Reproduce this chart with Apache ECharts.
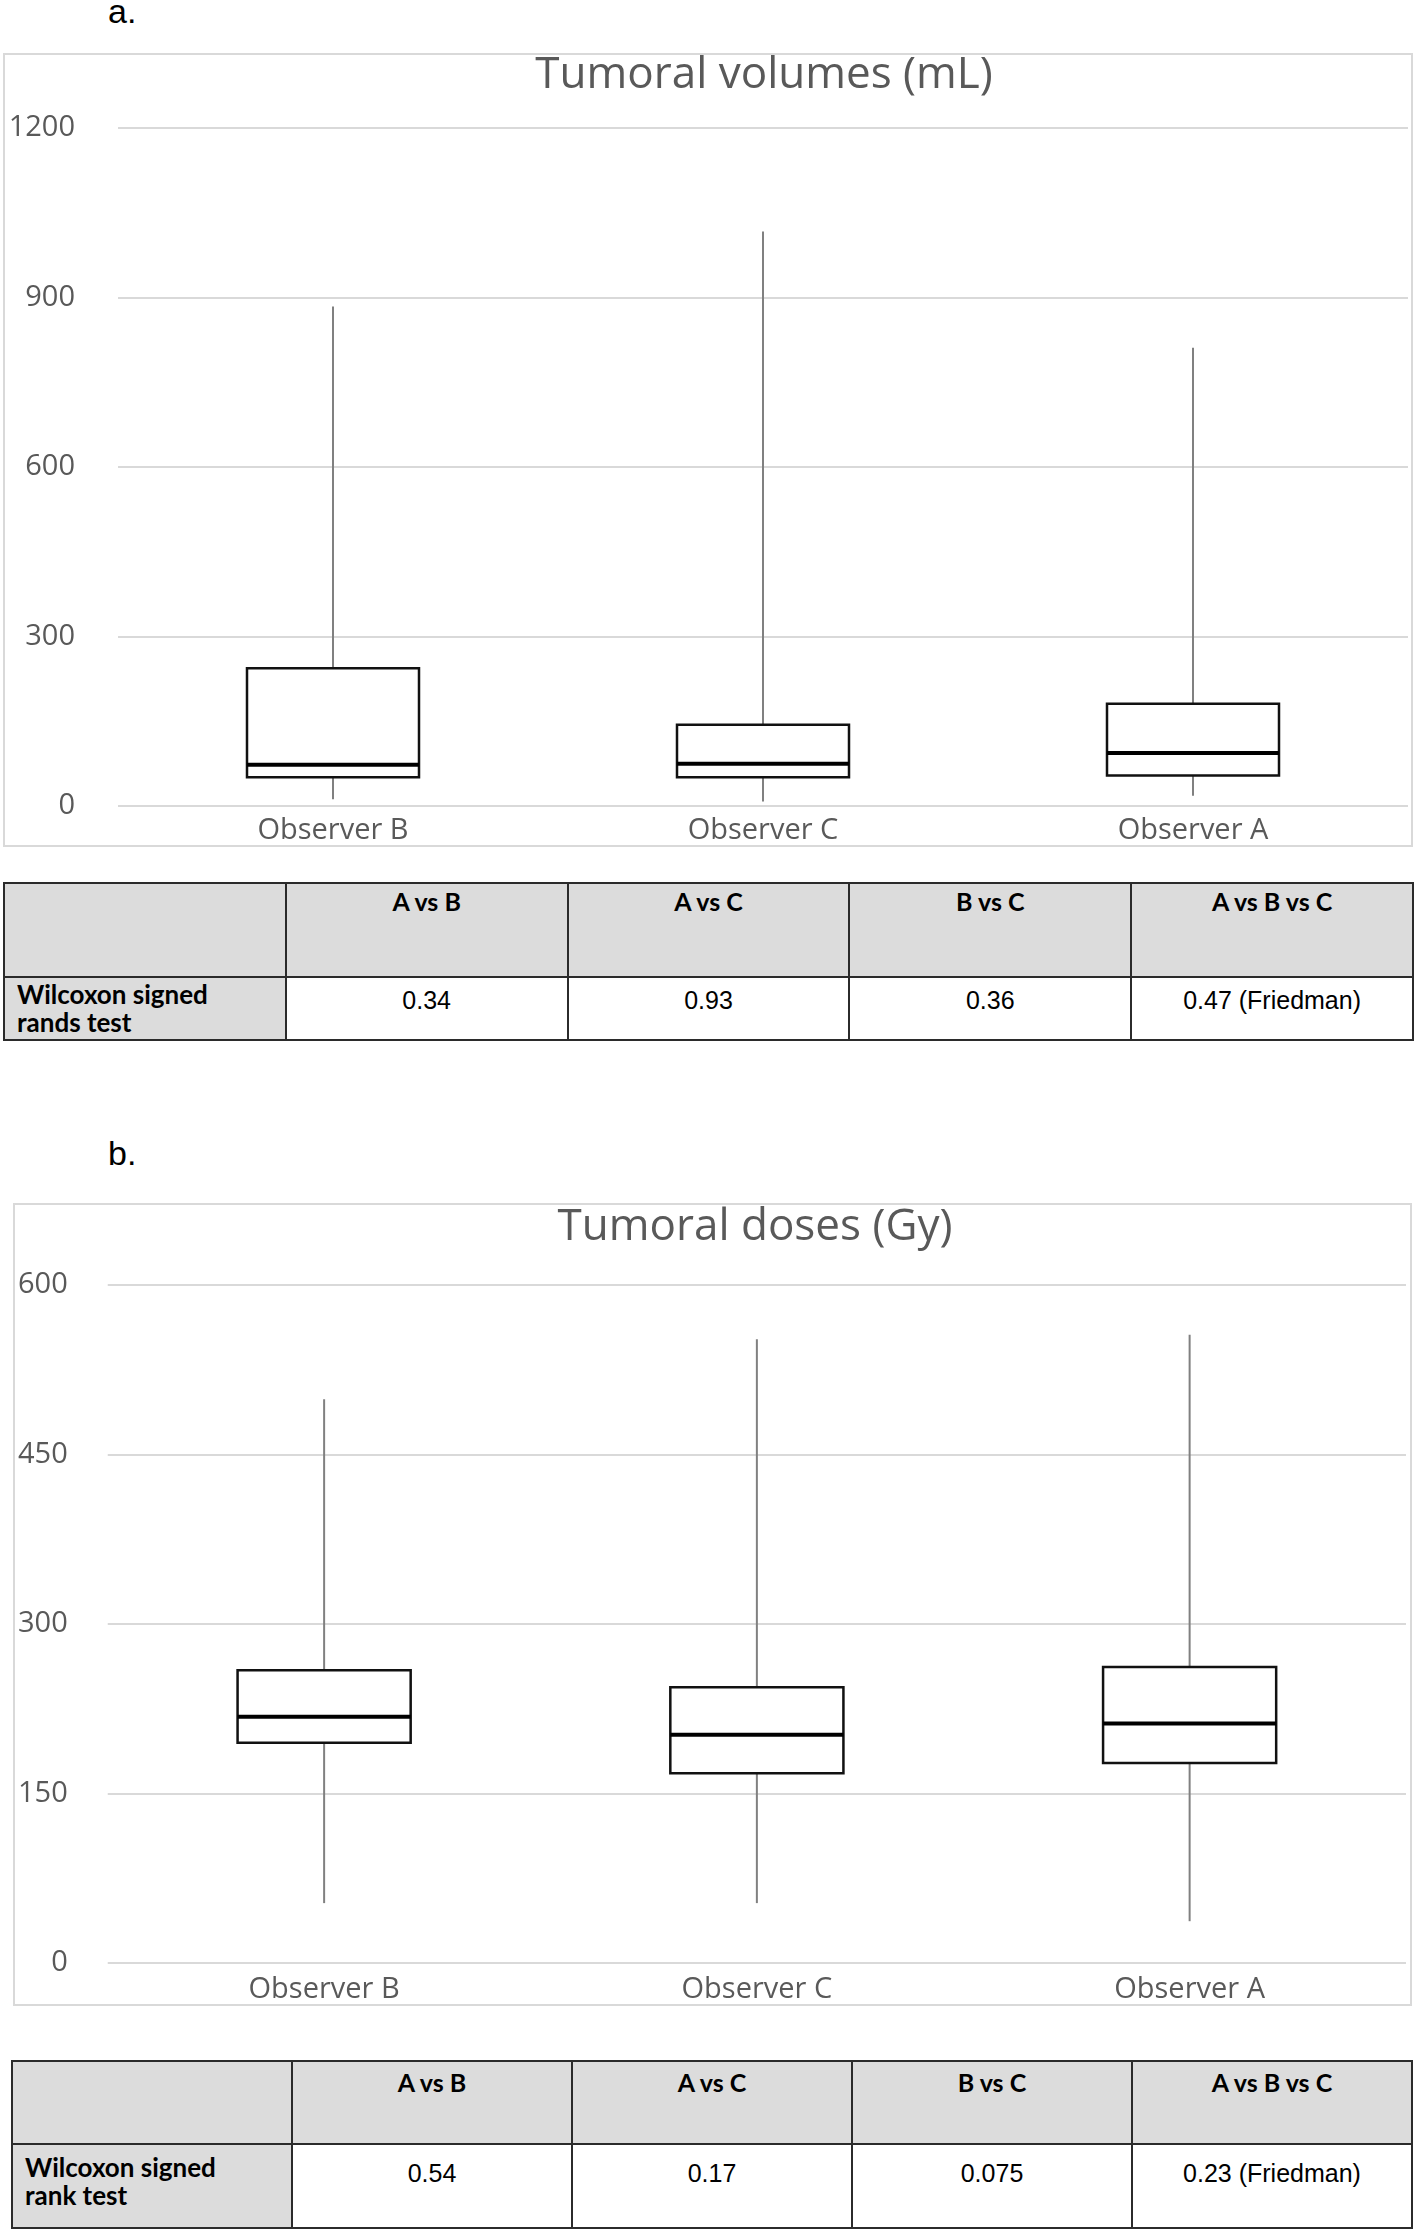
<!DOCTYPE html>
<html lang="en">

<head>
  <meta charset="UTF-8">
  <title>Tumoral volumes and doses</title>
  <style>
    body { margin: 0; width: 1418px; height: 2231px; background: #fff; position: relative; }
    .panel-letter { position: absolute; left: 108px; font: 34px/34px "Liberation Sans", Arial, sans-serif; color: #000; }
    .chart-box { position: absolute; box-sizing: border-box; border: 2px solid #d9d9d9; }
    table.stats { position: absolute; border-collapse: collapse; table-layout: fixed; }
    table.stats td { border: 2px solid #2b2b2b; padding: 0; vertical-align: top; text-align: center; }
    table.stats td.head { background: #dcdcdc; font: bold 25px/29px Lato, sans-serif; color: #000; }
    table.stats td.rowname { background: #dcdcdc; font: bold 26px/28px Lato, sans-serif; text-align: left; padding-left: 12px; }
    table.stats td.val { font: 25px/28px "Liberation Sans", Arial, sans-serif; color: #000; }
  </style>
</head>

<body>
  <div class="panel-letter" style="top:-6px">a.</div>
  <div id="chartA" class="chart-box" style="left:3px; top:53px; width:1410px; height:794px"></div>
  <table id="tableA" class="stats" style="left:3px; top:882px; width:1411px"></table>

  <div class="panel-letter" style="top:1136px">b.</div>
  <div id="chartB" class="chart-box" style="left:13px; top:1203px; width:1399px; height:803px"></div>
  <table id="tableB" class="stats" style="left:11px; top:2060px; width:1402px"></table>

  <script src="https://cdn.jsdelivr.net/npm/echarts@6/dist/echarts.min.js"></script>
  <script>
    // categories, in the order of the x axis
    var observers = ['Observer B', 'Observer C', 'Observer A'];

    // tumoral volumes (mL): min, q1, median, q3, max per observer
    var volumeMin = [12, 8, 18];
    var volumeQ1 = [51, 51, 54];
    var volumeMedian = [73, 75, 94];
    var volumeQ3 = [244, 144, 181];
    var volumeMax = [884, 1017, 811];
    var volumeTicks = [0, 300, 600, 900, 1200];

    // tumoral doses (Gy)
    var doseMin = [53, 53, 37];
    var doseQ1 = [195, 168, 177];
    var doseMedian = [218, 202, 212];
    var doseQ3 = [259, 244, 262];
    var doseMax = [499, 552, 556];
    var doseTicks = [0, 150, 300, 450, 600];

    // tables under the charts
    var comparisons = ['A vs B', 'A vs C', 'B vs C', 'A vs B vs C'];
    var volumeTestName = ['Wilcoxon signed', 'rands test'];
    var volumePValues = ['0.34', '0.93', '0.36', '0.47 (Friedman)'];
    var doseTestName = ['Wilcoxon signed', 'rank test'];
    var dosePValues = ['0.54', '0.17', '0.075', '0.23 (Friedman)'];

    var labelFont = 'Open Sans';
    var labelColor = '#595959';

    function boxData(mins, q1s, meds, q3s, maxs) {
      var out = [];
      for (var i = 0; i < mins.length; i++) {
        out.push([i, mins[i], q1s[i], meds[i], q3s[i], maxs[i]]);
      }
      return out;
    }

    // whiskers grey, box black, median thick - like the excel box plot
    function renderBox(params, api) {
      var x = api.value(0);
      var lo = api.coord([x, api.value(1)]);
      var q1 = api.coord([x, api.value(2)]);
      var med = api.coord([x, api.value(3)]);
      var q3 = api.coord([x, api.value(4)]);
      var hi = api.coord([x, api.value(5)]);
      var half = api.size([1, 0])[0] * 0.4 / 2;
      var whisker = { stroke: '#808080', lineWidth: 2 };
      return {
        type: 'group',
        children: [
          { type: 'line', shape: { x1: hi[0], y1: hi[1], x2: q3[0], y2: q3[1] }, style: whisker },
          { type: 'line', shape: { x1: q1[0], y1: q1[1], x2: lo[0], y2: lo[1] }, style: whisker },
          {
            type: 'rect',
            shape: { x: q3[0] - half, y: q3[1], width: half * 2, height: q1[1] - q3[1] },
            style: { fill: '#fff', stroke: '#111', lineWidth: 2.5 }
          },
          {
            type: 'line',
            shape: { x1: med[0] - half, y1: med[1], x2: med[0] + half, y2: med[1] },
            style: { stroke: '#000', lineWidth: 4 }
          }
        ]
      };
    }

    function makeOption(cfg) {
      return {
        animation: false,
        graphic: [{
          type: 'text',
          x: cfg.titleX,
          y: cfg.titleY,
          style: {
            text: cfg.title,
            fill: labelColor,
            font: '44px "' + labelFont + '"',
            textAlign: 'center',
            textVerticalAlign: 'middle'
          }
        }],
        grid: cfg.grid,
        xAxis: {
          type: 'category',
          data: observers,
          axisLine: { show: false },
          axisTick: { show: false },
          axisLabel: { color: labelColor, fontFamily: labelFont, fontSize: 29, margin: cfg.xMargin }
        },
        yAxis: {
          type: 'value',
          min: cfg.ticks[0],
          max: cfg.ticks[cfg.ticks.length - 1],
          interval: cfg.ticks[1] - cfg.ticks[0],
          axisLine: { show: false },
          axisTick: { show: false },
          axisLabel: {
            color: labelColor, fontFamily: labelFont, fontSize: 29, margin: cfg.yMargin,
            formatter: function (v) { return String(v); }
          },
          splitLine: { lineStyle: { color: '#d9d9d9', width: 2 } }
        },
        series: [{
          type: 'custom',
          renderItem: renderBox,
          encode: { x: 0, y: [1, 2, 3, 4, 5] },
          data: cfg.data
        }]
      };
    }

    function fillTable(id, testName, values, heights, pads) {
      var html = '<colgroup><col style="width:20%"><col style="width:20%"><col style="width:20%"><col style="width:20%"><col style="width:20%"></colgroup>';
      html += '<tr style="height:' + heights[0] + 'px"><td class="head"></td>';
      comparisons.forEach(function (c) {
        html += '<td class="head" style="padding-top:' + pads[0] + 'px">' + c + '</td>';
      });
      html += '</tr><tr style="height:' + heights[1] + 'px">';
      html += '<td class="rowname" style="padding-top:' + pads[1] + 'px">' + testName.join('<br>') + '</td>';
      values.forEach(function (v) {
        html += '<td class="val" style="padding-top:' + pads[2] + 'px">' + v + '</td>';
      });
      html += '</tr>';
      document.getElementById(id).innerHTML = html;
    }

    var chartA = echarts.init(document.getElementById('chartA'));
    chartA.setOption(makeOption({
      title: 'Tumoral volumes (mL)',
      titleX: 759,
      titleY: 20,
      grid: { left: 113, right: 3, top: 73, bottom: 37 },
      ticks: volumeTicks,
      xMargin: 10,
      yMargin: 43,
      data: boxData(volumeMin, volumeQ1, volumeMedian, volumeQ3, volumeMax)
    }));

    var chartB = echarts.init(document.getElementById('chartB'));
    chartB.setOption(makeOption({
      title: 'Tumoral doses (Gy)',
      titleX: 740,
      titleY: 22,
      grid: { left: 90, right: 4, top: 80, bottom: 40 },
      ticks: doseTicks,
      xMargin: 12,
      yMargin: 40,
      data: boxData(doseMin, doseQ1, doseMedian, doseQ3, doseMax)
    }));

    fillTable('tableA', volumeTestName, volumePValues, [94, 63], [3, 2, 8]);
    fillTable('tableB', doseTestName, dosePValues, [83, 84], [6, 8, 14]);
  </script>
</body>

</html>
